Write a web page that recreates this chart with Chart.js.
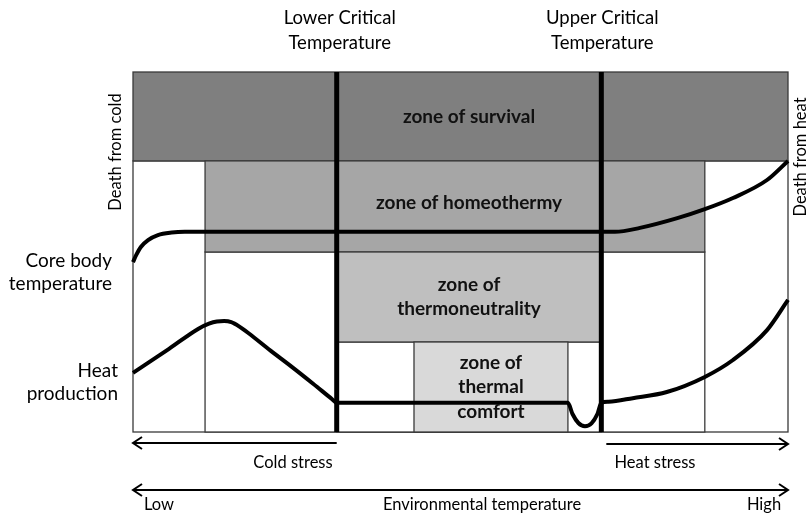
<!DOCTYPE html>
<html>
<head>
<meta charset="utf-8">
<script src="https://cdn.jsdelivr.net/npm/chart.js@4.4.1/dist/chart.umd.min.js"></script>
<style>
  html, body { margin: 0; padding: 0; background: #fff; }
  canvas { display: block; }
</style>
</head>
<body>
<canvas id="chart" width="809" height="514"></canvas>
<script>
// environmental temperature runs 0 (low) .. 100 (high), response level 0 .. 100
const lowerCritical = 31.1;
const upperCritical = 71.5;

const zoneLabels = [['zone of survival'], ['zone of homeothermy'], ['zone of', 'thermoneutrality'], ['zone of', 'thermal', 'comfort']];
const zoneFrom = [0, 11, 31.1, 42.9];
const zoneTo = [100, 87.3, 71.5, 66.4];
const zoneBottom = [75.3, 50, 25, 0];
const zoneTop = [100, 75.3, 50, 25];
const zoneColors = ['#7f7f7f', '#a6a6a6', '#bfbfbf', '#d9d9d9'];

// core body temperature curve
const coreX = [0, 0.5, 1.2, 2.3, 3.8, 5.9, 7.9, 11, 71.5, 73.6, 77.4, 83.1, 87.3, 91.6, 96.8, 100];
const coreY = [47.2, 49.2, 51.4, 53.3, 54.7, 55.4, 55.6, 55.6, 55.6, 55.6, 56.7, 59.4, 61.9, 65.0, 70.0, 75.3];

// heat production curve
const heatX = [0, 5.5, 10, 11.6, 12.8, 13.9, 15.0, 16.3, 17.6, 21, 24.1, 27.5, 30.4, 31.1, 33, 66.4, 67.1, 68.0, 69.0, 70.0, 70.9, 71.5, 72.6, 76.3, 81.5, 87.3, 91.6, 96.8, 100];
const heatY = [16.4, 23.1, 28.7, 30.1, 30.7, 30.8, 30.5, 29.2, 27.5, 22.6, 18.3, 13.4, 9.1, 8.1, 8.1, 8.1, 5.0, 2.5, 1.6, 2.4, 5.0, 8.1, 8.4, 9.4, 11.1, 15.3, 20.0, 28.3, 36.7];

const FONT = 'Lato, "Open Sans", sans-serif';

function pts(xs, ys) {
  return xs.map((x, i) => ({ x: x, y: ys[i] }));
}

function arrowHead(ctx, x, y, dir) {
  ctx.beginPath();
  ctx.moveTo(x + dir * 9, y - 6);
  ctx.lineTo(x, y);
  ctx.lineTo(x + dir * 9, y + 6);
  ctx.stroke();
}

const zonePlugin = {
  id: 'zones',
  beforeDatasetsDraw(chart) {
    const { ctx, scales: { x, y } } = chart;
    ctx.save();
    ctx.strokeStyle = '#3a3a3a';
    ctx.lineWidth = 1.3;
    zoneFrom.forEach((from, i) => {
      const x0 = x.getPixelForValue(from);
      const x1 = x.getPixelForValue(zoneTo[i]);
      // white box underneath each zone
      if (zoneBottom[i] > 0) {
        const yb = y.getPixelForValue(0);
        const yt = y.getPixelForValue(zoneBottom[i]);
        ctx.fillStyle = '#ffffff';
        ctx.fillRect(x0, yt, x1 - x0, yb - yt);
        ctx.strokeRect(x0, yt, x1 - x0, yb - yt);
      }
      const yb = y.getPixelForValue(zoneBottom[i]);
      const yt = y.getPixelForValue(zoneTop[i]);
      ctx.fillStyle = zoneColors[i];
      ctx.fillRect(x0, yt, x1 - x0, yb - yt);
      ctx.strokeRect(x0, yt, x1 - x0, yb - yt);
    });
    ctx.restore();
  },
  afterDraw(chart) {
    const { ctx, scales: { x, y } } = chart;
    ctx.save();
    ctx.textAlign = 'center';
    ctx.textBaseline = 'middle';

    // zone labels
    ctx.fillStyle = '#111';
    ctx.font = 'bold 19px ' + FONT;
    const midLc = x.getPixelForValue((lowerCritical + upperCritical) / 2);
    zoneLabels.forEach((lines, i) => {
      const cx = i === 3 ? x.getPixelForValue((zoneFrom[3] + zoneTo[3]) / 2) : midLc;
      let cy = (y.getPixelForValue(zoneTop[i]) + y.getPixelForValue(zoneBottom[i])) / 2;
      if (i === 1) cy -= 4;
      lines.forEach((t, j) => {
        ctx.fillText(t, cx, cy + (j - (lines.length - 1) / 2) * 24.5);
      });
    });

    ctx.fillStyle = '#000';
    ctx.font = '18.5px ' + FONT;
    const lcx = x.getPixelForValue(lowerCritical);
    const ucx = x.getPixelForValue(upperCritical);
    ctx.fillText('Lower Critical', lcx + 3, 18);
    ctx.fillText('Temperature', lcx + 3, 43);
    ctx.fillText('Upper Critical', ucx + 1, 18);
    ctx.fillText('Temperature', ucx + 1, 43);

    ctx.font = '19px ' + FONT;
    ctx.textAlign = 'right';
    ctx.fillText('Core body', 112, 261);
    ctx.fillText('temperature', 112, 284);
    ctx.fillText('Heat', 118, 371);
    ctx.fillText('production', 118, 394);

    // rotated edge labels
    ctx.font = '16.5px ' + FONT;
    ctx.textAlign = 'center';
    ctx.save();
    ctx.translate(116, 152);
    ctx.rotate(-Math.PI / 2);
    ctx.fillText('Death from cold', 0, 0);
    ctx.restore();
    ctx.save();
    ctx.translate(801, 157);
    ctx.rotate(-Math.PI / 2);
    ctx.fillText('Death from heat', 0, 0);
    ctx.restore();

    // stress arrows
    const left = x.getPixelForValue(0);
    const right = x.getPixelForValue(100);
    ctx.strokeStyle = '#000';
    ctx.lineWidth = 2;
    ctx.beginPath();
    ctx.moveTo(lcx, 443);
    ctx.lineTo(left, 443);
    ctx.stroke();
    arrowHead(ctx, left, 443, 1);
    ctx.beginPath();
    ctx.moveTo(ucx + 5, 444);
    ctx.lineTo(right, 444);
    ctx.stroke();
    arrowHead(ctx, right, 444, -1);
    ctx.beginPath();
    ctx.moveTo(left, 490);
    ctx.lineTo(right, 490);
    ctx.stroke();
    arrowHead(ctx, left, 490, 1);
    arrowHead(ctx, right, 490, -1);

    ctx.fillText('Cold stress', 293, 463);
    ctx.fillText('Heat stress', 655, 463);
    ctx.fillText('Low', 159, 505);
    ctx.fillText('Environmental temperature', 482, 505);
    ctx.fillText('High', 764, 505);
    ctx.restore();
  }
};

new Chart(document.getElementById('chart'), {
  type: 'scatter',
  data: {
    datasets: [
      {
        data: [{ x: lowerCritical, y: 0 }, { x: lowerCritical, y: 100 }],
        showLine: true,
        borderColor: '#000',
        borderWidth: 5,
        pointRadius: 0,
        clip: false,
      },
      {
        data: [{ x: upperCritical, y: 0 }, { x: upperCritical, y: 100 }],
        showLine: true,
        borderColor: '#000',
        borderWidth: 5,
        pointRadius: 0,
        clip: false,
      },
      {
        label: 'Core body temperature',
        data: pts(coreX, coreY),
        showLine: true,
        borderColor: '#000',
        borderWidth: 4,
        pointRadius: 0,
        cubicInterpolationMode: 'monotone',
        clip: false,
      },
      {
        label: 'Heat production',
        data: pts(heatX, heatY),
        showLine: true,
        borderColor: '#000',
        borderWidth: 4,
        pointRadius: 0,
        cubicInterpolationMode: 'monotone',
        clip: false,
      },
    ],
  },
  options: {
    responsive: false,
    animation: false,
    events: [],
    layout: {
      padding: { left: 133, right: 21, top: 72, bottom: 82 },
    },
    plugins: {
      legend: { display: false },
      tooltip: { enabled: false },
    },
    scales: {
      x: { type: 'linear', min: 0, max: 100, display: false },
      y: { type: 'linear', min: 0, max: 100, display: false },
    },
  },
  plugins: [zonePlugin],
});
</script>
</body>
</html>
